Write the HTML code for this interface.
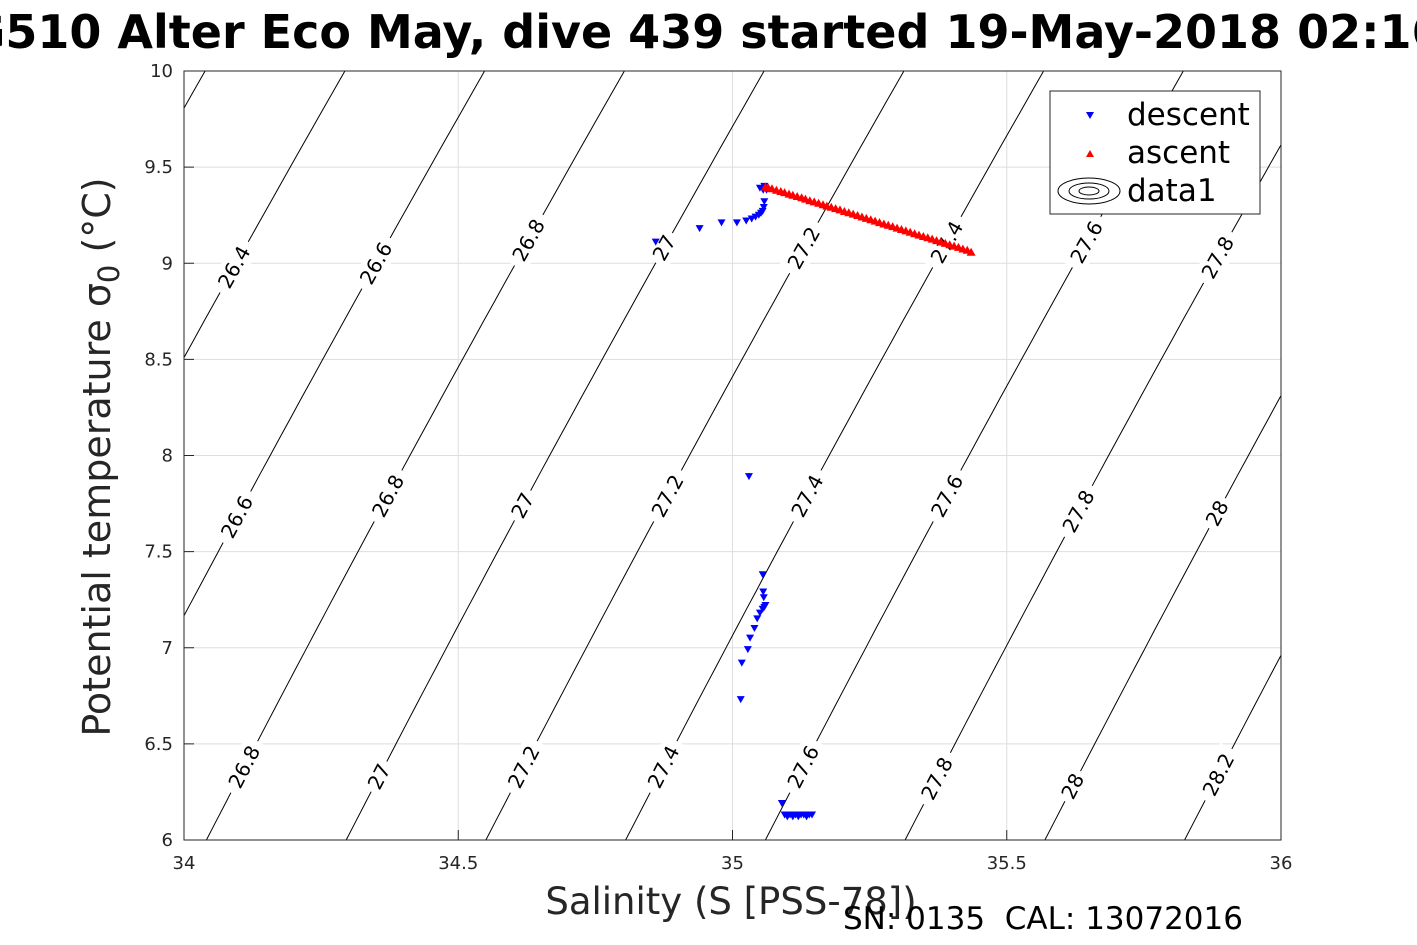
<!DOCTYPE html>
<html><head><meta charset="utf-8"><style>
html,body{margin:0;padding:0;background:#fff;}
svg{display:block;font-family:"DejaVu Sans","Liberation Sans",sans-serif;}
text{white-space:pre;}
</style></head><body>
<svg id="chart" width="1417" height="945" viewBox="0 0 1417 945">
<rect width="1417" height="945" fill="#fff"/>
<g id="grid"></g>
<g id="contours"></g>
<g id="clabels"></g>
<g id="desc"></g>
<g id="asc"></g>
<rect x="184" y="71" width="1097" height="769" fill="none" stroke="#262626" stroke-width="1"/>
<g id="ticks"></g>
<text x="689" y="48" text-anchor="middle" font-size="46" font-weight="bold" fill="#000">SG510 Alter Eco May, dive 439 started 19-May-2018 02:16</text>
<text transform="translate(110,457) rotate(-90)" text-anchor="middle" font-size="38" fill="#262626">Potential temperature σ<tspan font-size="29" dy="9">0</tspan><tspan dy="-9"> (°C)</tspan></text>
<text x="731" y="914" text-anchor="middle" font-size="37" fill="#262626">Salinity (S [PSS-78])</text>
<text x="843" y="929" font-size="31" fill="#000">SN: 0135  CAL: 13072016</text>
<g>
<rect x="1050" y="91" width="210" height="123" fill="#fff" stroke="#262626" stroke-width="1"/>
<polygon points="1086,112 1094,112 1090,119" fill="#00f"/>
<text x="1127" y="125" font-size="31" fill="#000">descent</text>
<polygon points="1086,157 1094,157 1090,150" fill="#f00"/>
<text x="1127" y="163" font-size="31" fill="#000">ascent</text>
<g fill="none" stroke="#000" stroke-width="1">
<ellipse cx="1089" cy="191" rx="31" ry="13"/><ellipse cx="1089" cy="191" rx="20" ry="8"/><ellipse cx="1089" cy="191" rx="10" ry="4"/></g>
<text x="1127" y="201" font-size="31" fill="#000">data1</text>
</g>
</svg>
<script>
var xTicks=[34,34.5,35,35.5,36];
var yTicks=[6,6.5,7,7.5,8,8.5,9,9.5,10];
var xTickLabels=["34","34.5","35","35.5","36"];
var yTickLabels=["6","6.5","7","7.5","8","8.5","9","9.5","10"];
var sigmaLevels=[26.2,26.4,26.6,26.8,27,27.2,27.4,27.6,27.8,28,28.2];
var labelLevels=[26.4,26.6,26.8,27,27.2,27.4,27.6,27.8, 26.6,26.8,27,27.2,27.4,27.6,27.8,28, 26.8,27,27.2,27.4,27.6,27.8,28,28.2];
var labelTemps=[8.98,9.0,9.12,9.08,9.08,9.11,9.11,9.03, 7.68,7.79,7.74,7.79,7.79,7.79,7.71,7.70, 6.38,6.33,6.38,6.38,6.38,6.32,6.28,6.34];
var descS=[34.86,34.94,34.98,35.008,35.025,35.035,35.042,35.048,35.052,35.055,35.057,35.058,35.056,35.05,35.058,35.062,
35.03,35.015,35.017,35.028,35.032,35.04,35.045,35.05,35.055,35.058,35.06,35.057,35.056,35.055,
35.09,35.095,35.1,35.105,35.11,35.115,35.12,35.125,35.13,35.135,35.14,35.145];
var descT=[9.11,9.18,9.21,9.21,9.22,9.23,9.24,9.25,9.26,9.27,9.29,9.32,9.38,9.39,9.40,9.38,
7.89,6.73,6.92,6.99,7.05,7.10,7.15,7.18,7.20,7.21,7.22,7.26,7.29,7.38,
6.19,6.13,6.12,6.13,6.12,6.13,6.12,6.13,6.13,6.12,6.13,6.13];
var ascS=[35.06,35.065,35.072,35.08,35.088,35.095,35.103,35.11,35.118,35.126,35.133,35.141,35.149,35.157,35.165,35.172,35.18,35.188,35.196,35.204,35.212,35.22,35.228,35.236,35.244,35.252,35.26,35.268,35.276,35.284,35.292,35.3,35.308,35.316,35.324,35.332,35.34,35.348,35.356,35.364,35.372,35.38,35.388,35.396,35.404,35.412,35.42,35.428,35.435];
var ascT=[9.40,9.395,9.39,9.382,9.376,9.37,9.362,9.356,9.35,9.343,9.336,9.328,9.322,9.315,9.307,9.30,9.294,9.287,9.28,9.272,9.265,9.258,9.251,9.243,9.236,9.229,9.222,9.214,9.207,9.2,9.193,9.185,9.178,9.171,9.164,9.156,9.149,9.142,9.135,9.128,9.12,9.113,9.106,9.099,9.092,9.085,9.077,9.07,9.06];

var X0=184,X1=1281,Y0=840,Y1=71,smin=34,smax=36,tmin=6,tmax=10;
function sx(s){return X0+(s-smin)/(smax-smin)*(X1-X0);}
function ty(t){return Y0-(t-tmin)/(tmax-tmin)*(Y0-Y1);}
function sOnLevel(sig,T){return 34.35+0.182*(T-6.3)+0.0025*(T-6.3)*(T-6.3)+(sig-27)/0.785;}
var NS="http://www.w3.org/2000/svg";
function mk(tag,attrs,parent){var e=document.createElementNS(NS,tag);for(var k in attrs)e.setAttribute(k,attrs[k]);parent.appendChild(e);return e;}
var grid=document.getElementById('grid'),ticks=document.getElementById('ticks');
xTicks.forEach(function(v,i){
 var g=mk('line',{x1:sx(v),x2:sx(v),y1:Y1,y2:Y0,stroke:'#dedede','stroke-width':1},grid);
 
 
 var t=mk('line',{x1:sx(v),x2:sx(v),y1:Y0,y2:Y0-10,stroke:'#262626'},ticks);
 
 
 var l=mk('text',{x:sx(v),y:869,'text-anchor':'middle','font-size':18,fill:'#262626'},ticks);
 l.textContent=xTickLabels[i];
 
 
});
yTicks.forEach(function(v,i){
 var g=mk('line',{x1:X0,x2:X1,y1:ty(v),y2:ty(v),stroke:'#dedede','stroke-width':1},grid);
 
 
 var t=mk('line',{x1:X0,x2:X0+10,y1:ty(v),y2:ty(v),stroke:'#262626'},ticks);
 
 
 var l=mk('text',{x:173,y:ty(v)+6,'text-anchor':'end','font-size':18,fill:'#262626'},ticks);
 l.textContent=yTickLabels[i];
 
 
});
var cg=document.getElementById('contours');
var defs=mk('defs',{},document.getElementById('chart'));
var cp=mk('clipPath',{id:'pc'},defs);mk('rect',{x:X0,y:Y1,width:X1-X0,height:Y0-Y1},cp);
cg.setAttribute('clip-path','url(#pc)');
sigmaLevels.forEach(function(sig){
 var d='';for(var T=tmin;T<=tmax+1e-9;T+=0.1){d+=(d?'L':'M')+sx(sOnLevel(sig,T)).toFixed(1)+','+ty(T).toFixed(1);}
 var p=mk('path',{d:d,fill:'none',stroke:'#000','stroke-width':1},cg);
 
 
});
var lg=document.getElementById('clabels');
labelLevels.forEach(function(sig,i){
 var T=labelTemps[i],x=sx(sOnLevel(sig,T)),y=ty(T);
 var x2=sx(sOnLevel(sig,T+0.1)),y2=ty(T+0.1);
 var ang=Math.atan2(y2-y,x2-x)*180/Math.PI;
 var g=mk('g',{transform:'translate('+x.toFixed(1)+','+y.toFixed(1)+') rotate('+ang.toFixed(1)+')'},lg);
 
 
 var txt=String(sig);var w=txt.length*12+10;
 mk('rect',{x:-w/2,y:-13,width:w,height:26,fill:'#fff'},g);
 var t=mk('text',{x:0,y:7,'text-anchor':'middle','font-size':20,fill:'#000'},g);
 t.textContent=txt;
});
var dg=document.getElementById('desc');
descS.forEach(function(s,i){
 var x=sx(s),y=ty(descT[i]);
 var p=mk('polygon',{points:(x-4)+','+(y-3.5)+' '+(x+4)+','+(y-3.5)+' '+x+','+(y+3.5),fill:'#00f'},dg);
 
 
});
var ag=document.getElementById('asc');
ascS.forEach(function(s,i){
 var x=sx(s),y=ty(ascT[i]);
 var p=mk('polygon',{points:(x-4.5)+','+(y+4)+' '+(x+4.5)+','+(y+4)+' '+x+','+(y-4),fill:'#f00'},ag);
 
 
});
</script>
</body></html>
